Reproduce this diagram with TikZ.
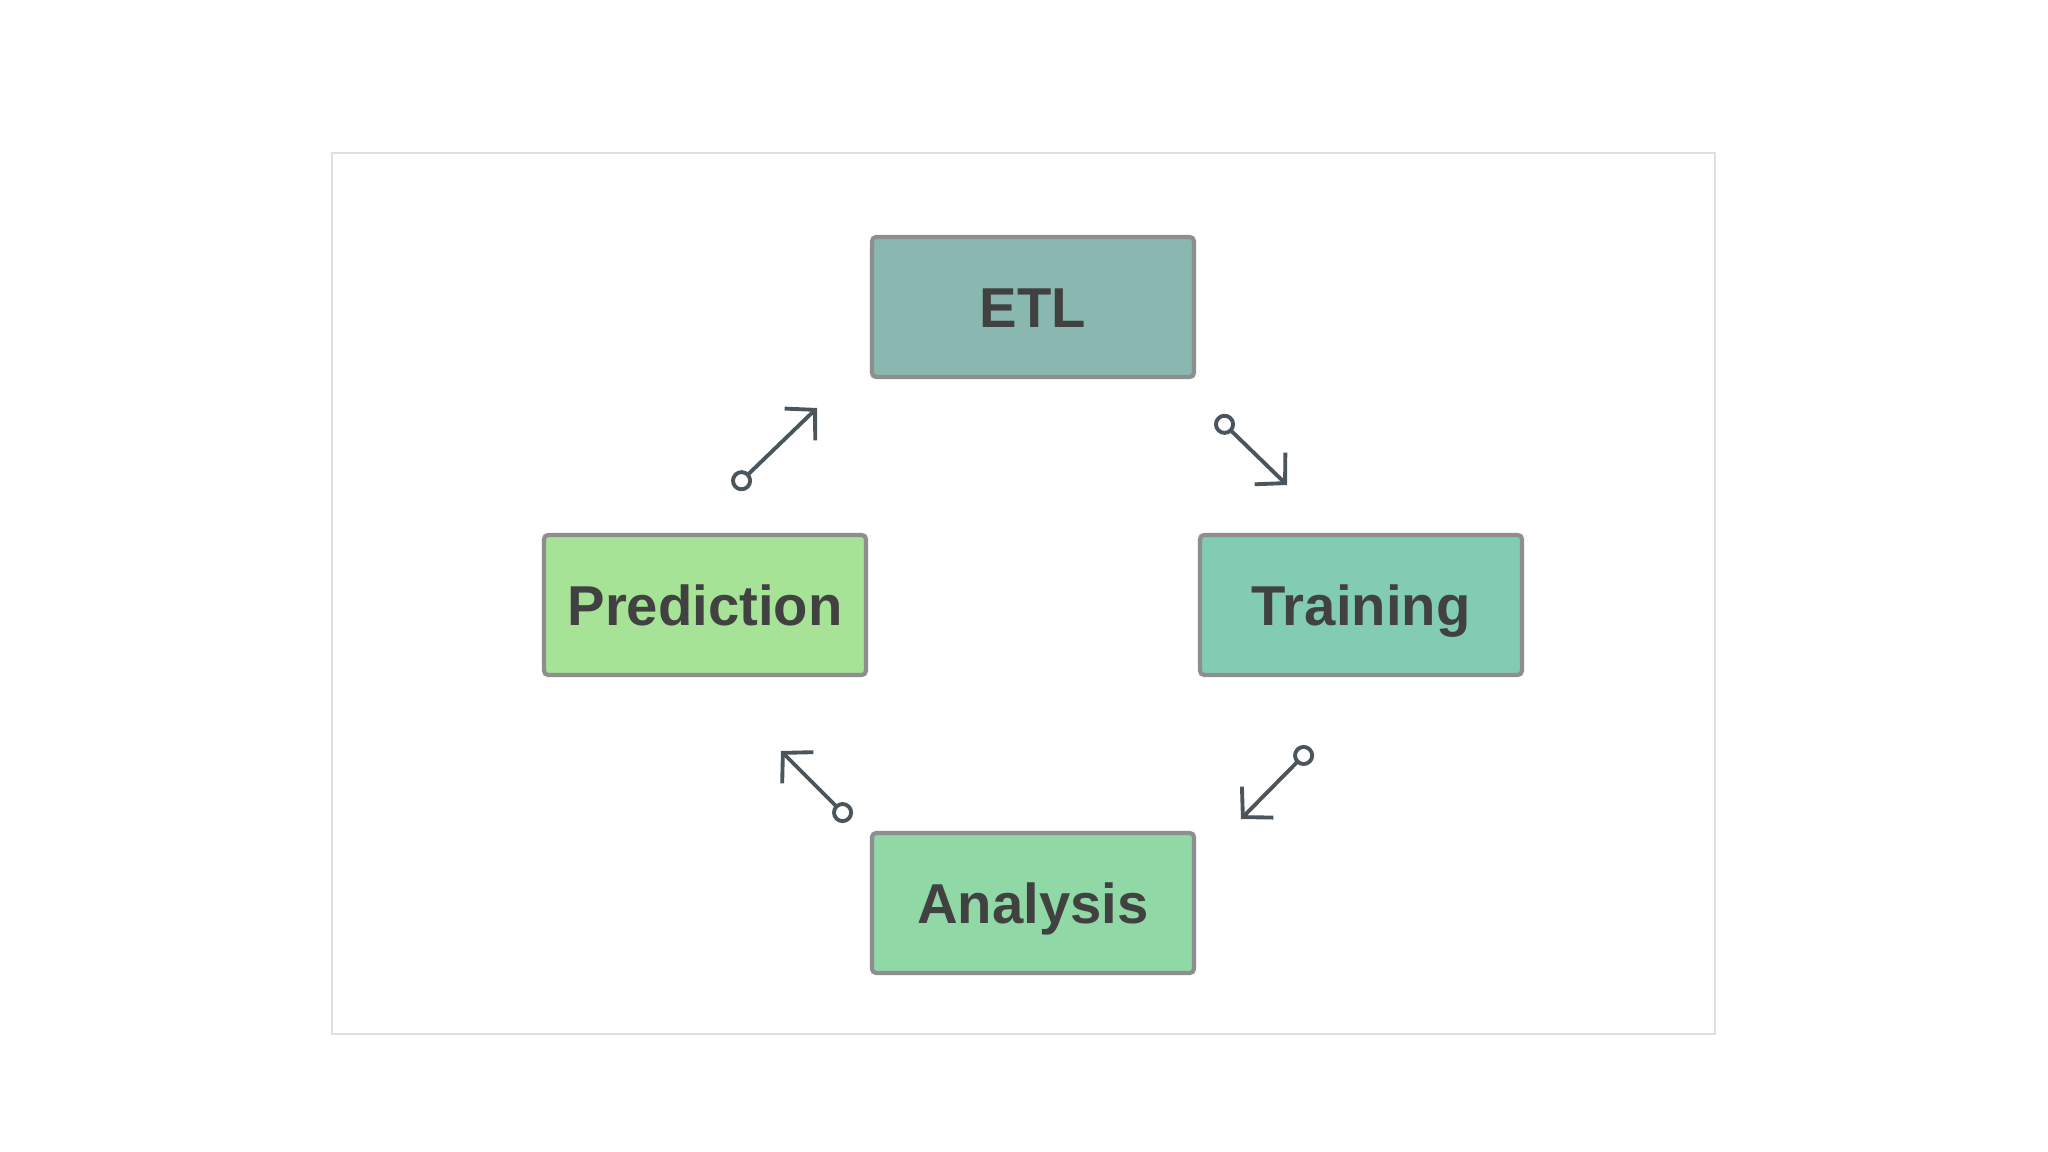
\documentclass[tikz,border=0pt]{standalone}
\usepackage{fontspec}
\setmainfont{Liberation Sans}
\usetikzlibrary{arrows.meta,positioning}

\definecolor{etlfill}{HTML}{88B8B0}
\definecolor{predfill}{HTML}{A6E396}
\definecolor{trainfill}{HTML}{82CCB4}
\definecolor{anafill}{HTML}{90D9A6}
\definecolor{boxline}{HTML}{8E8E8E}
\definecolor{labeltext}{HTML}{414141}
\definecolor{arrowgray}{HTML}{4A555C}

\begin{document}
\begin{tikzpicture}[
    font=\fontsize{16}{19}\selectfont\bfseries,
    stage/.style={draw=boxline, line width=1.2pt, rounded corners=1.2pt, text=labeltext, align=center, text height=11.5pt, text depth=0pt, minimum width=3.22cm, minimum height=1.40cm},
    flow/.style={{Circle[open, fill=white, length=2.1mm, width=2.1mm]}-{Straight Barb[length=2.1mm, width=4.4mm]}, line width=1.1pt, draw=arrowgray}
]

\useasboundingbox (0,0) rectangle (20.48,-11.52);
\draw[gray!25, line width=0.4pt] (3.32,-1.53) rectangle (17.15,-10.34);

\node[stage, fill=etlfill] (etl) at (10.33,-3.07) {ETL};
\node[stage, fill=predfill] (pred) at (7.05,-6.05) {Prediction};
\node[stage, fill=trainfill] (train) at (13.61,-6.05) {Training};
\node[stage, fill=anafill] (ana) at (10.33,-9.03) {Analysis};

% free arrows between the stages
\coordinate (p1) at (7.34,-4.88);
\coordinate (e1) at (8.17,-4.08);
\coordinate (e2) at (12.17,-4.17);
\coordinate (t1) at (12.87,-4.85);
\coordinate (t2) at (13.11,-7.48);
\coordinate (a1) at (12.41,-8.19);
\coordinate (a2) at (8.50,-8.20);
\coordinate (p2) at (7.81,-7.51);

\draw[flow] (p1) -- (e1);
\draw[flow] (e2) -- (t1);
\draw[flow] (t2) -- (a1);
\draw[flow] (a2) -- (p2);

\end{tikzpicture}
\end{document}
